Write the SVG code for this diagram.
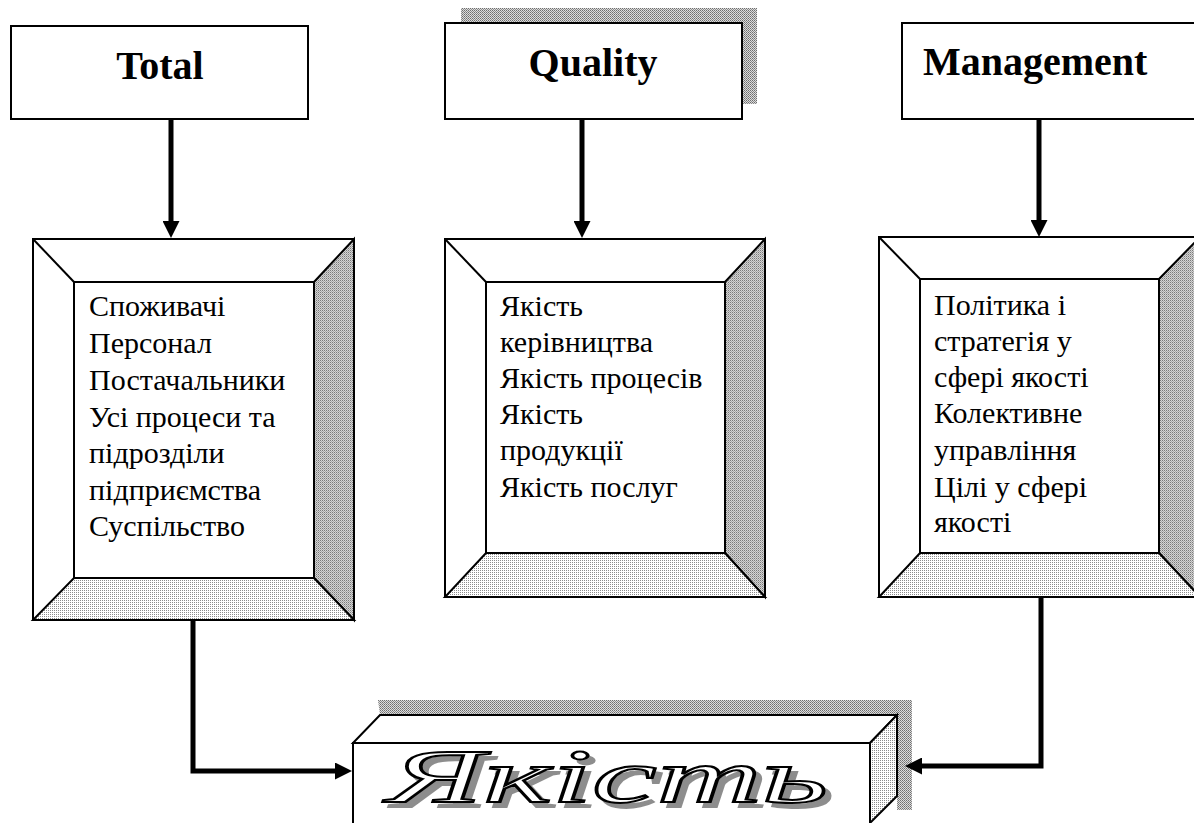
<svg xmlns="http://www.w3.org/2000/svg" width="1194" height="823" viewBox="0 0 1194 823">
<style>
.box{fill:#fff;stroke:#000;stroke-width:2}
.ln{fill:none;stroke:#000;stroke-width:2}
.hd{font-weight:bold;font-size:40px;fill:#000}
.tx{font-size:30px;fill:#000}
.conn{fill:none;stroke:#000;stroke-width:5;stroke-linecap:butt;stroke-linejoin:miter}
.big{font-style:italic;font-size:76px}
</style>
<defs>
<pattern id="pDark" width="2" height="2" patternUnits="userSpaceOnUse"><rect width="2" height="2" fill="#d4d4d4"/><rect width="1" height="1" fill="#7a7a7a"/><rect x="1" y="1" width="1" height="1" fill="#a8a8a8"/></pattern>
<pattern id="pLight" width="2" height="2" patternUnits="userSpaceOnUse"><rect width="2" height="2" fill="#ffffff"/><rect width="1" height="1" fill="#8c8c8c"/></pattern>
<pattern id="pShadow" width="2" height="2" patternUnits="userSpaceOnUse"><rect width="2" height="2" fill="#dcdcdc"/><rect width="1" height="1" fill="#6e6e6e"/><rect x="1" y="1" width="1" height="1" fill="#8a8a8a"/></pattern>
<filter id="ds" x="-5%" y="-10%" width="115%" height="130%">
<feOffset in="SourceAlpha" dx="6" dy="5" result="o"/>
<feComponentTransfer in="o" result="g"><feFuncA type="linear" slope="0.45"/></feComponentTransfer>
<feMerge><feMergeNode in="g"/><feMergeNode in="SourceGraphic"/></feMerge>
</filter>
<marker id="arr" viewBox="0 0 10 10" refX="0" refY="5" markerWidth="3.4" markerHeight="3.4" orient="auto" markerUnits="strokeWidth"><path d="M0,0 L10,5 L0,10 z" fill="#000"/></marker>
</defs>
<rect width="1194" height="823" fill="#fff"/>

<g id="node-total">
<rect class="box" x="11" y="26" width="297" height="93"/>
<text class="hd" font-family="Liberation Serif, Times New Roman, serif" x="160" y="79" text-anchor="middle">Total</text>
</g>

<g id="node-quality">
<rect x="461" y="8" width="296" height="96" fill="url(#pShadow)"/>
<rect class="box" x="445" y="23" width="297" height="96"/>
<text class="hd" font-family="Liberation Serif, Times New Roman, serif" x="593" y="76" text-anchor="middle">Quality</text>
</g>

<g id="node-management">
<rect class="box" x="902" y="23" width="300" height="96"/>
<text class="hd" font-family="Liberation Serif, Times New Roman, serif" x="923" y="75">Management</text>
</g>

<g id="frame-total">
<rect class="box" x="33" y="239" width="321" height="381"/>
<polygon points="314,282 354,239 354,620 314,578" fill="url(#pDark)" stroke="#000" stroke-width="2"/>
<polygon points="74,578 314,578 354,620 33,620" fill="url(#pLight)" stroke="#000" stroke-width="2"/>
<line class="ln" x1="33" y1="239" x2="74" y2="282"/>
<rect class="box" x="74" y="282" width="240" height="296"/>
<text class="tx" font-family="Liberation Serif, Times New Roman, serif">
<tspan x="89" y="316">Споживачі</tspan>
<tspan x="89" y="353">Персонал</tspan>
<tspan x="89" y="390">Постачальники</tspan>
<tspan x="89" y="427">Усі процеси та</tspan>
<tspan x="89" y="463">підрозділи</tspan>
<tspan x="89" y="500">підприємства</tspan>
<tspan x="89" y="536">Суспільство</tspan>
</text>
</g>

<g id="frame-quality">
<rect class="box" x="445" y="239" width="320" height="358"/>
<polygon points="725,282 765,239 765,597 725,553" fill="url(#pDark)" stroke="#000" stroke-width="2"/>
<polygon points="486,553 725,553 765,597 445,597" fill="url(#pLight)" stroke="#000" stroke-width="2"/>
<line class="ln" x1="445" y1="239" x2="486" y2="282"/>
<rect class="box" x="486" y="282" width="239" height="271"/>
<text class="tx" font-family="Liberation Serif, Times New Roman, serif">
<tspan x="500" y="316">Якість</tspan>
<tspan x="500" y="352">керівництва</tspan>
<tspan x="500" y="388">Якість процесів</tspan>
<tspan x="500" y="424">Якість</tspan>
<tspan x="500" y="460">продукції</tspan>
<tspan x="500" y="497">Якість послуг</tspan>
</text>
</g>

<g id="frame-management">
<rect class="box" x="879" y="237" width="321" height="360"/>
<polygon points="1159,279 1200,237 1200,597 1159,553" fill="url(#pDark)" stroke="#000" stroke-width="2"/>
<polygon points="920,553 1159,553 1200,597 879,597" fill="url(#pLight)" stroke="#000" stroke-width="2"/>
<line class="ln" x1="879" y1="237" x2="920" y2="279"/>
<rect class="box" x="920" y="279" width="239" height="274"/>
<text class="tx" font-family="Liberation Serif, Times New Roman, serif">
<tspan x="934" y="315">Політика і</tspan>
<tspan x="934" y="351">стратегія у</tspan>
<tspan x="934" y="387">сфері якості</tspan>
<tspan x="934" y="423">Колективне</tspan>
<tspan x="934" y="460">управління</tspan>
<tspan x="934" y="497">Цілі у сфері</tspan>
<tspan x="934" y="532">якості</tspan>
</text>
</g>

<g id="node-yakist">
<polygon points="378,700 912,700 912,810 897,810 897,715 380,715" fill="url(#pShadow)"/>
<polygon points="353,743 380,715 897,715 870,743" fill="#fff" stroke="#000" stroke-width="2"/>
<polygon points="870,743 897,715 897,796 870,823" fill="url(#pLight)" stroke="#000" stroke-width="2"/>
<rect class="box" x="353" y="743" width="517" height="90"/>
<text class="big" font-family="Liberation Serif, Times New Roman, serif" x="388" y="802" textLength="440" lengthAdjust="spacingAndGlyphs" fill="#fff" stroke="#000" stroke-width="2" filter="url(#ds)">Якість</text>
</g>

<g id="connectors">
<line class="conn" x1="171" y1="119" x2="171" y2="221" marker-end="url(#arr)"/>
<line class="conn" x1="582" y1="119" x2="582" y2="221" marker-end="url(#arr)"/>
<line class="conn" x1="1039" y1="119" x2="1039" y2="220" marker-end="url(#arr)"/>
<path class="conn" d="M193,620 V771 H335" marker-end="url(#arr)"/>
<path class="conn" d="M1041,597 V766 H922" marker-end="url(#arr)"/>
</g>
</svg>
